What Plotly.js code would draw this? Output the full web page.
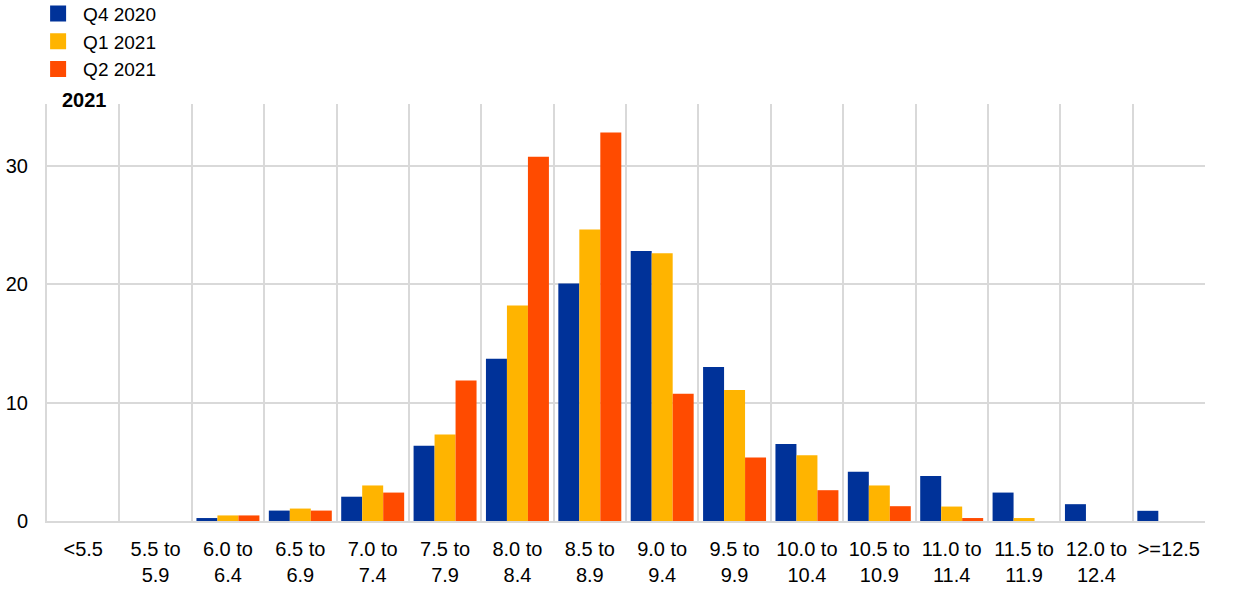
<!DOCTYPE html>
<html>
<head>
<meta charset="utf-8">
<script src="https://cdn.plot.ly/plotly-3.0.1.min.js"></script>
<style>html,body{margin:0;padding:0;background:#fff;}#chart{width:1240px;height:593px;}</style>
</head>
<body>
<div id="chart"></div>
<script>
const categories = ["<5.5", "5.5 to<br>5.9", "6.0 to<br>6.4", "6.5 to<br>6.9", "7.0 to<br>7.4", "7.5 to<br>7.9", "8.0 to<br>8.4", "8.5 to<br>8.9", "9.0 to<br>9.4", "9.5 to<br>9.9", "10.0 to<br>10.4", "10.5 to<br>10.9", "11.0 to<br>11.4", "11.5 to<br>11.9", "12.0 to<br>12.4", ">=12.5"];
const seriesNames = ["Q4 2020", "Q1 2021", "Q2 2021"];
const q4_2020 = [0, 0, 0.25, 0.88, 2.05, 6.35, 13.7, 20.05, 22.8, 13.0, 6.5, 4.15, 3.8, 2.4, 1.42, 0.86];
const q1_2021 = [0, 0, 0.47, 1.05, 3.0, 7.3, 18.2, 24.6, 22.6, 11.05, 5.55, 3.0, 1.22, 0.25, 0, 0];
const q2_2021 = [0, 0, 0.47, 0.88, 2.4, 11.85, 30.75, 32.8, 10.75, 5.35, 2.6, 1.25, 0.25, 0, 0, 0];
const colors = ["#003299", "#ffb400", "#ff4b00"];
const yTicks = [0, 10, 20, 30];

const values = [q4_2020, q1_2021, q2_2021];
const barTraces = values.map((v, i) => ({
  type: "bar",
  name: seriesNames[i],
  x: categories,
  y: v,
  marker: {color: colors[i]},
  showlegend: false,
  legendgroup: "g" + i
}));
const legendTraces = seriesNames.map((n, i) => ({
  type: "scatter",
  mode: "markers",
  name: n,
  x: [null],
  y: [null],
  marker: {color: colors[i], symbol: "square", size: 16},
  showlegend: true,
  legendgroup: "g" + i
}));

const font = "Arial, Liberation Sans, sans-serif";
const layout = {
  width: 1240, height: 593,
  margin: {l: 47, r: 35, t: 104, b: 72, autoexpand: false},
  paper_bgcolor: "#fff", plot_bgcolor: "#fff",
  barmode: "group",
  bargap: 0.13,
  bargroupgap: 0,
  font: {family: font, size: 20, color: "#000"},
  showlegend: true,
  legend: {
    x: -0.012, xanchor: "left", y: 1.262, yanchor: "top",
    orientation: "v",
    font: {family: font, size: 19, color: "#000"},
    bgcolor: "rgba(0,0,0,0)",
    tracegroupgap: 0,
    itemsizing: "trace",
    itemwidth: 40
  },
  xaxis: {
    type: "category",
    tickson: "boundaries",
    showgrid: true,
    gridcolor: "#d9d9d9",
    gridwidth: 2,
    showline: true,
    linecolor: "#d9d9d9",
    linewidth: 2,
    ticks: "",
    ticklabelstandoff: 9,
    tickfont: {family: font, size: 20, color: "#000"},
    tickangle: 0,
    fixedrange: true
  },
  yaxis: {
    range: [0, 35.2],
    tickvals: yTicks,
    ticktext: yTicks.map(String),
    showgrid: true,
    gridcolor: "#d9d9d9",
    gridwidth: 2,
    zeroline: false,
    showline: true,
    linecolor: "#d9d9d9",
    linewidth: 2,
    ticks: "outside",
    ticklen: 13,
    tickcolor: "rgba(0,0,0,0)",
    tickfont: {family: font, size: 20, color: "#000"},
    fixedrange: true
  },
  annotations: [{
    text: "<b>2021</b>",
    xref: "paper", yref: "paper",
    x: 0.011, xanchor: "left",
    y: 1.01, yanchor: "middle",
    showarrow: false,
    font: {family: font, size: 20, color: "#000"}
  }]
};

Plotly.newPlot("chart", barTraces.concat(legendTraces), layout, {displayModeBar: false, staticPlot: true});
</script>
</body>
</html>
